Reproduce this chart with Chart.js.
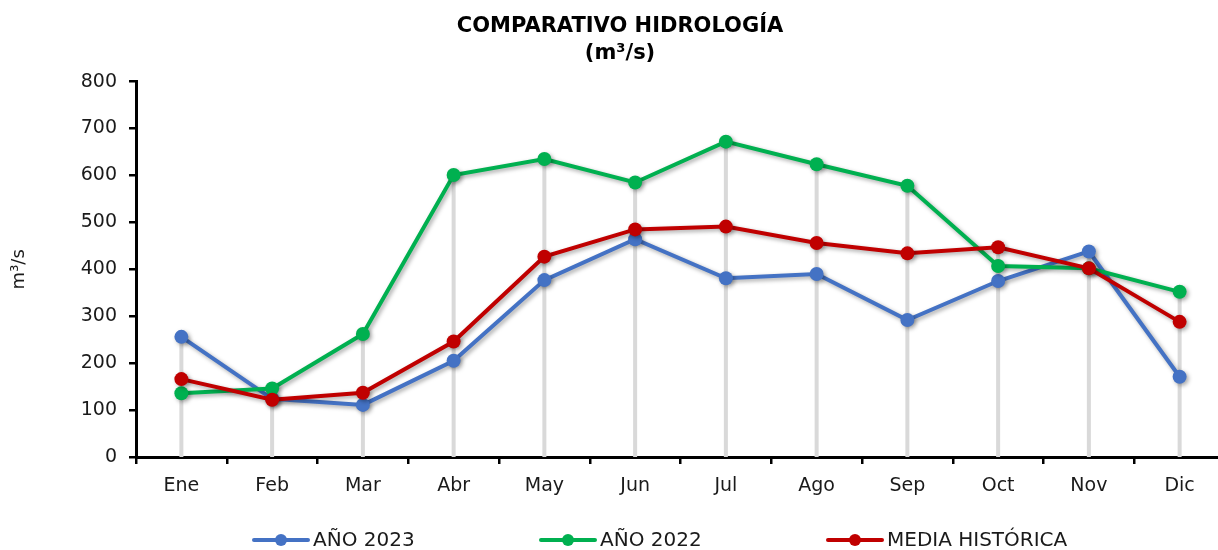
<!DOCTYPE html>
<html>
<head>
<meta charset="utf-8">
<script src="https://cdn.jsdelivr.net/npm/chart.js@4.4.1/dist/chart.umd.min.js"></script>
<style>
  body { margin: 0; background: #fff; overflow: hidden; }
  canvas { display: block; }
</style>
</head>
<body>
<canvas id="hidro" width="1232" height="550"></canvas>
<script>
let meses = ["Ene", "Feb", "Mar", "Abr", "May", "Jun", "Jul", "Ago", "Sep", "Oct", "Nov", "Dic"];
let anio2023 = [256, 124, 111, 205, 377, 464, 381, 390, 292, 375, 438, 171];
let anio2022 = [136, 146, 262, 601, 635, 585, 672, 624, 578, 407, 402, 352];
let mediaHistorica = [166, 122, 137, 246, 427, 485, 491, 456, 434, 447, 402, 288];
let nombres = ["AÑO 2023", "AÑO 2022", "MEDIA HISTÓRICA"];
let colores = ["#4472C4", "#00B050", "#C00000"];
let fuente = "'DejaVu Sans', sans-serif";

// gray drop lines from the highest point of each month down to 0, then shadow for the series
let lineasCaida = {
  id: "lineasCaida",
  beforeDatasetsDraw(chart) {
    let ctx = chart.ctx;
    let x = chart.scales.x;
    let y = chart.scales.y;
    ctx.save();
    ctx.strokeStyle = "#d9d9d9";
    ctx.lineWidth = 4;
    meses.forEach((m, i) => {
      let tope = Math.max(...chart.data.datasets.map((d) => d.data[i]));
      let px = x.getPixelForValue(i);
      ctx.beginPath();
      ctx.moveTo(px, y.getPixelForValue(tope));
      ctx.lineTo(px, y.getPixelForValue(0));
      ctx.stroke();
    });
    ctx.restore();
    ctx.save();
    ctx.shadowColor = "rgba(0,0,0,0.35)";
    ctx.shadowBlur = 4;
    ctx.shadowOffsetX = 2;
    ctx.shadowOffsetY = 2;
  },
  afterDatasetsDraw(chart) {
    chart.ctx.restore();
  },
};

// legend drawn by hand: line with a dot, then the name
let leyenda = {
  id: "leyenda",
  afterDraw(chart) {
    let ctx = chart.ctx;
    let yc = 540;
    ctx.save();
    ctx.font = "20px " + fuente;
    ctx.textBaseline = "middle";
    chart.data.datasets.forEach((ds, i) => {
      let x0 = 254 + i * 287;
      ctx.strokeStyle = ds.borderColor;
      ctx.lineWidth = 4;
      ctx.lineCap = "round";
      ctx.beginPath();
      ctx.moveTo(x0, yc);
      ctx.lineTo(x0 + 54, yc);
      ctx.stroke();
      ctx.fillStyle = ds.borderColor;
      ctx.beginPath();
      ctx.arc(x0 + 27, yc, 6, 0, Math.PI * 2);
      ctx.fill();
      ctx.fillStyle = "#1a1a1a";
      ctx.fillText(ds.label, x0 + 59, yc + 1);
    });
    ctx.restore();
  },
};

let ctx1 = document.getElementById("hidro").getContext("2d");
let hidro = new Chart(ctx1, {
  type: "line",
  data: {
    labels: meses,
    datasets: [
      {
        label: nombres[0],
        data: anio2023,
        borderColor: colores[0],
        backgroundColor: colores[0],
        order: 3,
      },
      {
        label: nombres[1],
        data: anio2022,
        borderColor: colores[1],
        backgroundColor: colores[1],
        order: 2,
      },
      {
        label: nombres[2],
        data: mediaHistorica,
        borderColor: colores[2],
        backgroundColor: colores[2],
        order: 1,
      },
    ],
  },
  options: {
    responsive: false,
    animation: false,
    elements: {
      line: { borderWidth: 4, tension: 0 },
      point: { radius: 7, borderWidth: 0, hoverRadius: 7 },
    },
    layout: {
      padding: { left: 8, right: 0, top: 0, bottom: 45 },
    },
    plugins: {
      legend: { display: false },
      tooltip: { enabled: false },
      title: {
        display: true,
        text: ["COMPARATIVO HIDROLOGÍA", "(m³/s)"],
        color: "#000",
        font: { family: fuente, size: 21, weight: "bold", lineHeight: 1.3 },
        padding: { top: 13, bottom: 14 },
      },
    },
    scales: {
      x: {
        offset: true,
        afterFit: (scale) => {
          scale.height = 48;
        },
        grid: {
          offset: true,
          drawOnChartArea: false,
          drawTicks: true,
          tickLength: 7,
          color: "#000",
          lineWidth: 2.5,
        },
        border: { display: true, color: "#000", width: 3 },
        ticks: {
          color: "#1a1a1a",
          padding: 11,
          font: { family: fuente, size: 19 },
        },
      },
      y: {
        min: 0,
        max: 800,
        afterFit: (scale) => {
          scale.width = 128;
        },
        grid: {
          drawOnChartArea: false,
          drawTicks: true,
          tickLength: 7,
          color: "#000",
          lineWidth: 2.5,
        },
        border: { display: true, color: "#000", width: 3 },
        ticks: {
          stepSize: 100,
          color: "#1a1a1a",
          padding: 12,
          font: { family: fuente, size: 19 },
        },
        title: {
          display: true,
          text: "m³/s",
          color: "#1a1a1a",
          font: { family: fuente, size: 18 },
          padding: { top: 1, bottom: 0 },
        },
      },
    },
  },
  plugins: [lineasCaida, leyenda],
});
</script>
</body>
</html>
